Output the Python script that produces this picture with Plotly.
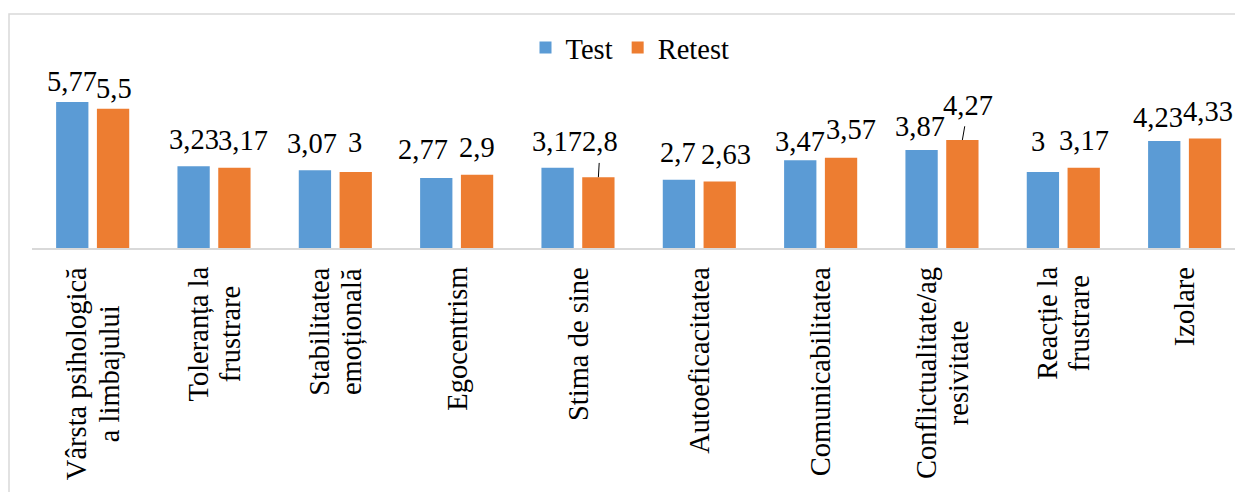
import plotly.graph_objects as go

# ---- data -------------------------------------------------------------
categories = [
    "Vârsta psihologică a limbajului",
    "Toleranța la frustrare",
    "Stabilitatea emoțională",
    "Egocentrism",
    "Stima de sine",
    "Autoeficacitatea",
    "Comunicabilitatea",
    "Conflictualitate/agresivitate",
    "Reacție la frustrare",
    "Izolare",
]
tick_labels = [
    ["Vârsta psihologică", "a limbajului"],
    ["Toleranța la", "frustrare"],
    ["Stabilitatea", "emoțională"],
    ["Egocentrism"],
    ["Stima de sine"],
    ["Autoeficacitatea"],
    ["Comunicabilitatea"],
    ["Conflictualitate/ag", "resivitate"],
    ["Reacție la", "frustrare"],
    ["Izolare"],
]
test_values = [5.77, 3.23, 3.07, 2.77, 3.17, 2.7, 3.47, 3.87, 3, 4.23]
retest_values = [5.5, 3.17, 3, 2.9, 2.8, 2.63, 3.57, 4.27, 3.17, 4.33]
series_names = ["Test", "Retest"]

# ---- styling / geometry ----------------------------------------------
W, H = 1235, 492
LEFT, TOP, BOTTOM = 32, 70, 248          # plot area edges in px
PLOT_W, PLOT_H = W - LEFT, BOTTOM - TOP
PX_PER_UNIT = 25.3                        # vertical scale
PX_PER_CAT = 121.33                       # horizontal category pitch
SLOT_PX = 40.8                            # distance between bar centres in a group
FONT = "Liberation Serif"
FS = 28.5
LINE_PX = 32.4                            # baseline-to-baseline of wrapped labels
DESCENT = 0.216 * FS
BLUE, ORANGE = "#5B9BD5", "#ED7D31"
GREY = "#D9D9D9"
INK = "#000000"

# value-label placement: horizontal nudge (px) and baseline height above bar (px)
test_dx = [0, 0, -3, -13, -1, -1, 0, -2, -5, -6]
test_gap = [10, 16, 16.7, 17.7, 16, 17.3, 8.3, 13.3, 20.7, 13.3]
retest_dx = [1, 9, -1, 0, 2, 6, 10, 6, 0, 3]
retest_gap = [10, 17.3, 19, 17, 25.6, 16.3, 18.3, 25, 17.3, 16.7]
retest_leader = {4, 7}                    # labels lifted with a leader line


def fmt(v):
    return f"{v:g}".replace(".", ",")


fig = go.Figure()
for name, vals, col in [
    (series_names[0], test_values, BLUE),
    (series_names[1], retest_values, ORANGE),
]:
    fig.add_trace(go.Bar(
        name=name, x=categories, y=vals,
        marker=dict(color=col, line=dict(width=0)),
        hoverinfo="skip",
    ))

annotations = []

# value labels
for side, vals, dxs, gaps, leaders in [
    (-1, test_values, test_dx, test_gap, set()),
    (1, retest_values, retest_dx, retest_gap, retest_leader),
]:
    for i, v in enumerate(vals):
        base = dict(
            x=categories[i], xref="x", y=v, yref="y",
            text=fmt(v), borderpad=0,
            font=dict(family=FONT, size=FS, color=INK),
        )
        if i in leaders:
            # centre of the text box sits (ascent - half box) above the baseline
            centre_above_bar = gaps[i] + (0.891 * FS - 1.107 * FS / 2)
            base.update(
                xshift=side * SLOT_PX / 2,
                showarrow=True, arrowhead=0, arrowwidth=1, arrowcolor=INK,
                ax=dxs[i], ay=-centre_above_bar, standoff=0, startstandoff=5,
            )
        else:
            base.update(
                xshift=side * SLOT_PX / 2 + dxs[i],
                showarrow=False, xanchor="center", yanchor="bottom",
                yshift=gaps[i] - DESCENT,
            )
        annotations.append(base)

# category labels, rotated and centred under each group
for cat, lines in zip(categories, tick_labels):
    text = "<br>".join(
        f"<span style='font-size:{FS}px'>{ln}</span>" for ln in lines
    )
    annotations.append(dict(
        x=cat, xref="x", y=(BOTTOM - 266) / PLOT_H, yref="paper",
        text=text, showarrow=False, textangle=-90, align="center",
        xanchor="center", yanchor="top", borderpad=0,
        font=dict(family=FONT, size=LINE_PX / 1.3, color=INK),
    ))

fig.update_layout(
    width=W, height=H,
    margin=dict(l=LEFT, r=0, t=TOP, b=H - BOTTOM, autoexpand=False),
    paper_bgcolor="white", plot_bgcolor="white",
    barmode="group",
    bargap=1 - 2 * SLOT_PX / PX_PER_CAT,
    bargroupgap=1 - 32.3 / SLOT_PX,
    font=dict(family=FONT, size=FS, color=INK),
    legend=dict(
        orientation="h", x=(630 - LEFT) / PLOT_W, xanchor="center",
        y=(BOTTOM - 48) / PLOT_H, yanchor="middle",
        font=dict(family=FONT, size=FS, color=INK),
        bgcolor="rgba(0,0,0,0)", traceorder="normal",
    ),
    xaxis=dict(
        type="category", range=[-0.5, -0.5 + PLOT_W / PX_PER_CAT],
        showticklabels=False, ticks="", showgrid=False, zeroline=False,
        showline=True, linecolor=GREY, linewidth=1.5,
    ),
    yaxis=dict(
        range=[0, PLOT_H / PX_PER_UNIT], visible=False,
        showgrid=False, zeroline=False,
    ),
    annotations=annotations,
    shapes=[dict(
        type="rect", xref="paper", yref="paper",
        x0=(9 - LEFT) / PLOT_W, x1=(W + 20 - LEFT) / PLOT_W,
        y0=(BOTTOM - (H + 20)) / PLOT_H, y1=(BOTTOM - 14) / PLOT_H,
        line=dict(color=GREY, width=1.5), fillcolor="rgba(0,0,0,0)", layer="below",
    )],
)

fig.write_html("out.html")
